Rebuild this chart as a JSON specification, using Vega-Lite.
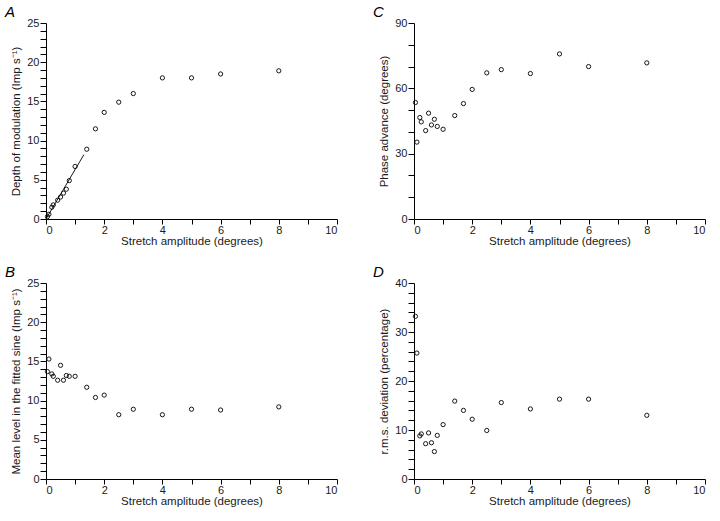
{
  "$schema": "https://vega.github.io/schema/vega-lite/v6.json",
  "background": "white",
  "padding": {"left": 5, "top": 5, "right": 0, "bottom": 0},
  "bounds": "flush",
  "columns": 2,
  "spacing": {"row": 64, "column": 77},
  "datasets": {
    "pts": [
      {"amp": 0.05, "depth": 0.3, "mean": 13.7, "phase": 53.5, "rms": 33.2},
      {"amp": 0.1, "depth": 0.6, "mean": 15.3, "phase": 35.3, "rms": 25.7},
      {"amp": 0.2, "depth": 1.5, "mean": 13.4, "phase": 46.6, "rms": 8.8},
      {"amp": 0.25, "depth": 1.8, "mean": 13.1, "phase": 44.6, "rms": 9.2},
      {"amp": 0.4, "depth": 2.4, "mean": 12.6, "phase": 40.6, "rms": 7.2},
      {"amp": 0.5, "depth": 2.8, "mean": 14.5, "phase": 48.6, "rms": 9.4},
      {"amp": 0.6, "depth": 3.3, "mean": 12.6, "phase": 43.2, "rms": 7.4},
      {"amp": 0.7, "depth": 3.8, "mean": 13.2, "phase": 45.8, "rms": 5.6},
      {"amp": 0.8, "depth": 4.9, "mean": 13.1, "phase": 42.5, "rms": 8.9},
      {"amp": 1.0, "depth": 6.7, "mean": 13.1, "phase": 41.2, "rms": 11.1},
      {"amp": 1.4, "depth": 8.9, "mean": 11.7, "phase": 47.5, "rms": 15.9},
      {"amp": 1.7, "depth": 11.5, "mean": 10.4, "phase": 53.0, "rms": 14.0},
      {"amp": 2.0, "depth": 13.6, "mean": 10.7, "phase": 59.5, "rms": 12.2},
      {"amp": 2.5, "depth": 14.9, "mean": 8.2, "phase": 67.1, "rms": 9.9},
      {"amp": 3.0, "depth": 16.0, "mean": 8.9, "phase": 68.6, "rms": 15.6},
      {"amp": 4.0, "depth": 18.0, "mean": 8.2, "phase": 66.8, "rms": 14.3},
      {"amp": 5.0, "depth": 18.0, "mean": 8.9, "phase": 75.8, "rms": 16.3},
      {"amp": 6.0, "depth": 18.5, "mean": 8.8, "phase": 70.0, "rms": 16.3},
      {"amp": 8.0, "depth": 18.9, "mean": 9.2, "phase": 71.7, "rms": 13.0}
    ],
    "fit": [
      {"amp": 0, "depth": 0},
      {"amp": 1.3, "depth": 8.2}
    ]
  },
  "config": {
    "font": "Liberation Sans",
    "view": {"stroke": null},
    "axis": {
      "grid": false,
      "domainColor": "#000",
      "domainWidth": 1,
      "tickColor": "#000",
      "tickWidth": 1,
      "labelFont": "Liberation Sans",
      "titleFont": "Liberation Sans",
      "labelFontSize": 11,
      "titleFontSize": 11.5,
      "titleFontWeight": "normal",
      "labelColor": "#1a1a1a",
      "titleColor": "#1a1a1a",
      "labelOverlap": false
    },
    "axisX": {"tickSize": 5, "labelPadding": 0, "titlePadding": 0},
    "axisY": {"tickSize": 6, "labelPadding": 1, "titlePadding": 5},
    "title": {
      "font": "Liberation Sans",
      "fontStyle": "italic",
      "fontWeight": "normal",
      "fontSize": 15,
      "anchor": "start",
      "frame": "group",
      "baseline": "alphabetic",
      "offset": -3,
      "dx": -41,
      "color": "#000"
    }
  },
  "concat": [
    {
      "width": 291,
      "height": 196,
      "title": "A",
      "encoding": {
        "x": {"field": "amp", "type": "quantitative", "scale": {"domain": [0, 10], "nice": false},
          "axis": {"title": "Stretch amplitude (degrees)", "values": [0,1,2,3,4,5,6,7,8,9,10], "labelExpr": "datum.value % 2 === 0 ? datum.label : ''"}},
        "y": {"field": "depth", "type": "quantitative", "scale": {"domain": [0, 25], "nice": false},
          "axis": {"title": "Depth of modulation (Imp s⁻¹)", "values": [0,1,2,3,4,5,6,7,8,9,10,11,12,13,14,15,16,17,18,19,20,21,22,23,24,25], "labelExpr": "datum.value % 5 === 0 ? datum.label : ''"}}
      },
      "layer": [
        {
          "data": {"name": "fit"},
          "mark": {"type": "line", "color": "#000", "strokeWidth": 0.9}
        },
        {
          "data": {"name": "pts"},
          "mark": {"type": "point", "shape": "circle", "filled": false, "color": "#000", "size": 18, "strokeWidth": 0.9, "opacity": 1}
        }
      ]
    },
    {
      "width": 291,
      "height": 196,
      "title": "C",
      "data": {"name": "pts"},
      "mark": {"type": "point", "shape": "circle", "filled": false, "color": "#000", "size": 18, "strokeWidth": 0.9, "opacity": 1},
      "encoding": {
        "x": {"field": "amp", "type": "quantitative", "scale": {"domain": [0, 10], "nice": false},
          "axis": {"title": "Stretch amplitude (degrees)", "values": [0,1,2,3,4,5,6,7,8,9,10], "labelExpr": "datum.value % 2 === 0 ? datum.label : ''"}},
        "y": {"field": "phase", "type": "quantitative", "scale": {"domain": [0, 90], "nice": false},
          "axis": {"title": "Phase advance (degrees)", "values": [0,10,20,30,40,50,60,70,80,90], "labelExpr": "datum.value % 30 === 0 ? datum.label : ''"}}
      }
    },
    {
      "width": 291,
      "height": 196,
      "title": "B",
      "data": {"name": "pts"},
      "mark": {"type": "point", "shape": "circle", "filled": false, "color": "#000", "size": 18, "strokeWidth": 0.9, "opacity": 1},
      "encoding": {
        "x": {"field": "amp", "type": "quantitative", "scale": {"domain": [0, 10], "nice": false},
          "axis": {"title": "Stretch amplitude (degrees)", "values": [0,1,2,3,4,5,6,7,8,9,10], "labelExpr": "datum.value % 2 === 0 ? datum.label : ''"}},
        "y": {"field": "mean", "type": "quantitative", "scale": {"domain": [0, 25], "nice": false},
          "axis": {"title": "Mean level in the fitted sine (Imp s⁻¹)", "values": [0,1,2,3,4,5,6,7,8,9,10,11,12,13,14,15,16,17,18,19,20,21,22,23,24,25], "labelExpr": "datum.value % 5 === 0 ? datum.label : ''"}}
      }
    },
    {
      "width": 291,
      "height": 196,
      "title": "D",
      "data": {"name": "pts"},
      "mark": {"type": "point", "shape": "circle", "filled": false, "color": "#000", "size": 18, "strokeWidth": 0.9, "opacity": 1},
      "encoding": {
        "x": {"field": "amp", "type": "quantitative", "scale": {"domain": [0, 10], "nice": false},
          "axis": {"title": "Stretch amplitude (degrees)", "values": [0,1,2,3,4,5,6,7,8,9,10], "labelExpr": "datum.value % 2 === 0 ? datum.label : ''"}},
        "y": {"field": "rms", "type": "quantitative", "scale": {"domain": [0, 40], "nice": false},
          "axis": {"title": "r.m.s. deviation (percentage)", "values": [0,2,4,6,8,10,12,14,16,18,20,22,24,26,28,30,32,34,36,38,40], "labelExpr": "datum.value % 10 === 0 ? datum.label : ''"}}
      }
    }
  ]
}
